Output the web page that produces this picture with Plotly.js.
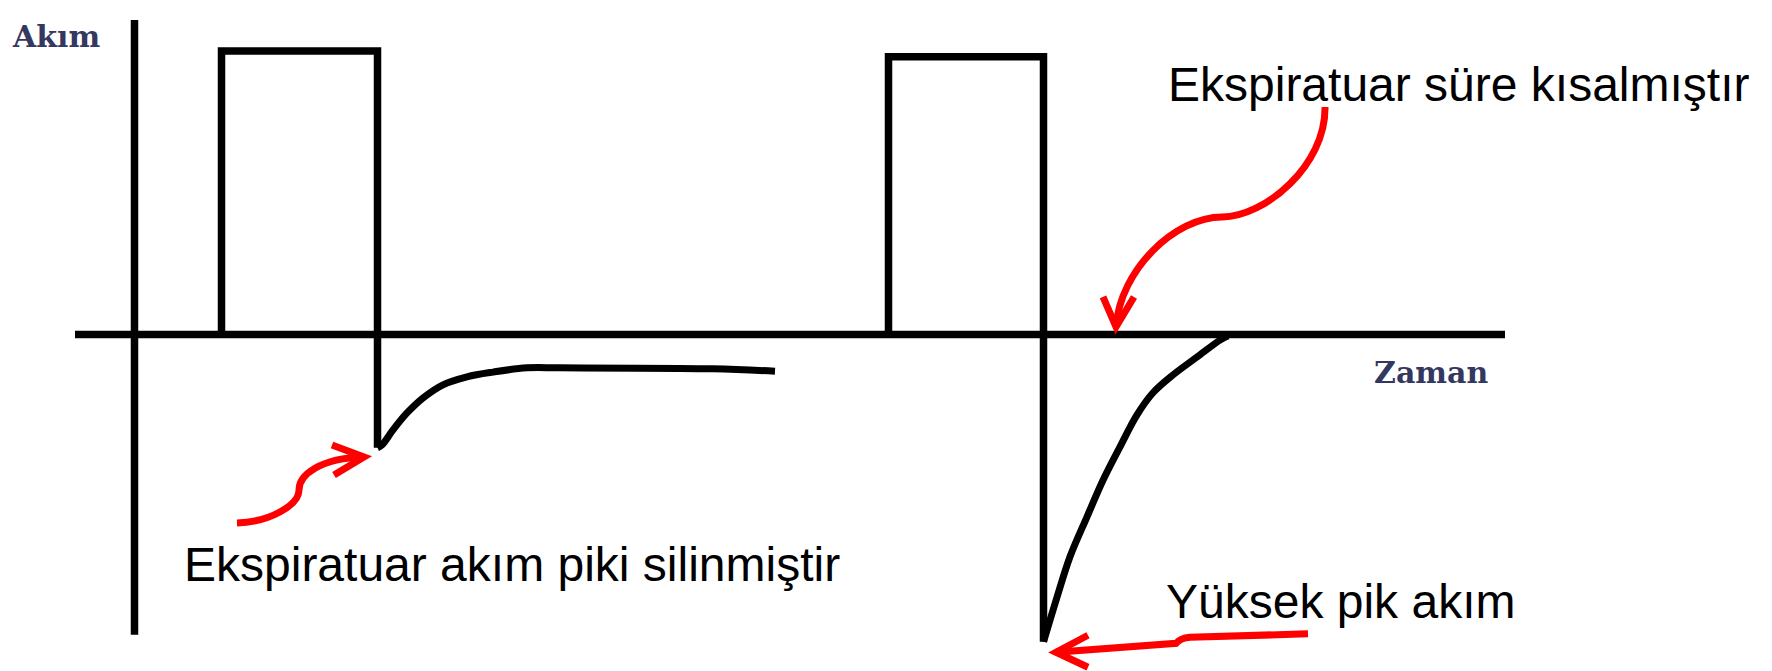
<!DOCTYPE html>
<html>
<head>
<meta charset="utf-8">
<script src="https://cdn.plot.ly/plotly-3.0.1.min.js"></script>
<style>
  html, body { margin: 0; padding: 0; background: #ffffff; }
  #chart { width: 1772px; height: 671px; }
</style>
</head>
<body>
<div id="chart"></div>
<script>
// Flow–time waveform: two volume-controlled breaths (time in s, flow in L/min)

// Breath 1: square inspiratory flow, then expiration with a blunted peak
const breath1InspTime = [0.87, 0.87, 2.43, 2.43];
const breath1InspFlow = [0, 60.3, 60.3, -24.1];
const breath1ExpTime  = [2.43, 2.475, 2.585, 2.725, 2.885, 3.085, 3.325, 3.585, 3.925, 4.255, 5.785, 6.405];
const breath1ExpFlow  = [-24.1, -23.5, -20.3, -16.7, -13.5, -10.7, -9.0, -8.0, -7.1, -7.1, -7.3, -7.8];

// Breath 2: square inspiratory flow, then a high expiratory peak and a short expiration
const breath2InspTime = [7.54, 7.54, 9.09, 9.09];
const breath2InspFlow = [0, 59.1, 59.1, -65.4];
const breath2ExpTime  = [9.09, 9.225, 9.355, 9.525, 9.685, 9.855, 10.025, 10.185, 10.385, 10.625, 10.855, 10.935];
const breath2ExpFlow  = [-65.4, -55.9, -47.3, -38.8, -31.0, -23.9, -17.1, -12.4, -8.6, -4.8, -1.2, -0.3];

// Axis labels and callout texts
const yLabel = 'Akım';
const xLabel = 'Zaman';
const noteShortExp = 'Ekspiratuar süre kısalmıştır';
const noteBluntPeak = 'Ekspiratuar akım piki silinmiştir';
const noteHighPeak = 'Yüksek pik akım';

const INK = '#000000';
const RED = '#ff0000';
const LABEL_NAVY = '#34375f';
const LW = 7.5;

function waveTrace(x, y, shape) {
  return {
    x: x, y: y, type: 'scatter', mode: 'lines',
    line: { color: INK, width: shape === 'spline' ? 7 : LW, shape: shape, smoothing: 1 },
    hoverinfo: 'skip', showlegend: false
  };
}

const traces = [
  waveTrace(breath1InspTime, breath1InspFlow, 'linear'),
  waveTrace(breath1ExpTime, breath1ExpFlow, 'spline'),
  waveTrace(breath2InspTime, breath2InspFlow, 'linear'),
  waveTrace(breath2ExpTime, breath2ExpFlow, 'spline')
];

// Hand-drawn style axes (lines through the origin)
const axisShapes = [
  { type: 'line', xref: 'x', yref: 'y', x0: 0, x1: 0, y0: 66.9, y1: -63.9,
    line: { color: INK, width: LW } },
  { type: 'line', xref: 'x', yref: 'y', x0: -0.595, x1: 13.705, y0: 0, y1: 0,
    line: { color: INK, width: LW } }
];

// Curved red callout arrows
function redPath(d) {
  return { type: 'path', xref: 'x', yref: 'y', path: d,
           line: { color: RED, width: 7 }, fillcolor: 'rgba(0,0,0,0)' };
}
const arrowShapes = [
  // to the blunted expiratory peak
  redPath('M 1.025,-40.11 C 1.355,-39.89 1.645,-36.28 1.645,-33.09 C 1.645,-29.89 1.855,-26.28 2.295,-26.06'),
  redPath('M 1.975,-23.51 L 2.295,-26.06 L 1.995,-29.89'),
  // to the shortened expiration
  redPath('M 11.905,48.40 C 11.915,36.06 11.305,25.0 10.875,25.0 C 10.405,25.0 9.855,13.72 9.815,1.60'),
  redPath('M 9.685,7.98 L 9.815,1.60 L 9.995,7.98'),
  // to the high expiratory peak
  redPath('M 11.735,-63.7 L 10.555,-64.4 Q 10.455,-64.6 10.415,-65.7 L 9.215,-67.6'),
  redPath('M 9.535,-64.0 L 9.215,-67.6 L 9.535,-70.8')
];

const noteFont = { family: 'Liberation Sans, Arial, sans-serif', size: 48, color: INK };
const labelFont = { family: 'DejaVu Serif, serif', size: 30, color: LABEL_NAVY, weight: 'bold' };

function note(text, x, y, font) {
  return { text: text, x: x, y: y, xref: 'x', yref: 'y', showarrow: false,
           xanchor: 'left', yanchor: 'middle', font: font };
}

const annotations = [
  note('<b>' + yLabel + '</b>', -1.245, 63.4, labelFont),
  note('<b>' + xLabel + '</b>', 12.375, -8.1, labelFont),
  note(noteShortExp, 10.315, 53.2, noteFont),
  note(noteBluntPeak, 0.475, -49.0, noteFont),
  note(noteHighPeak, 10.295, -56.9, noteFont)
];

const layout = {
  width: 1772, height: 671,
  margin: { l: 0, r: 0, t: 0, b: 0, pad: 0 },
  paper_bgcolor: '#ffffff', plot_bgcolor: '#ffffff',
  showlegend: false,
  xaxis: { range: [-1.345, 16.375], visible: false, fixedrange: true },
  yaxis: { range: [-71.6, 71.17], visible: false, fixedrange: true },
  shapes: axisShapes.concat(arrowShapes),
  annotations: annotations
};

Plotly.newPlot('chart', traces, layout, { staticPlot: true, displayModeBar: false });
</script>
</body>
</html>
